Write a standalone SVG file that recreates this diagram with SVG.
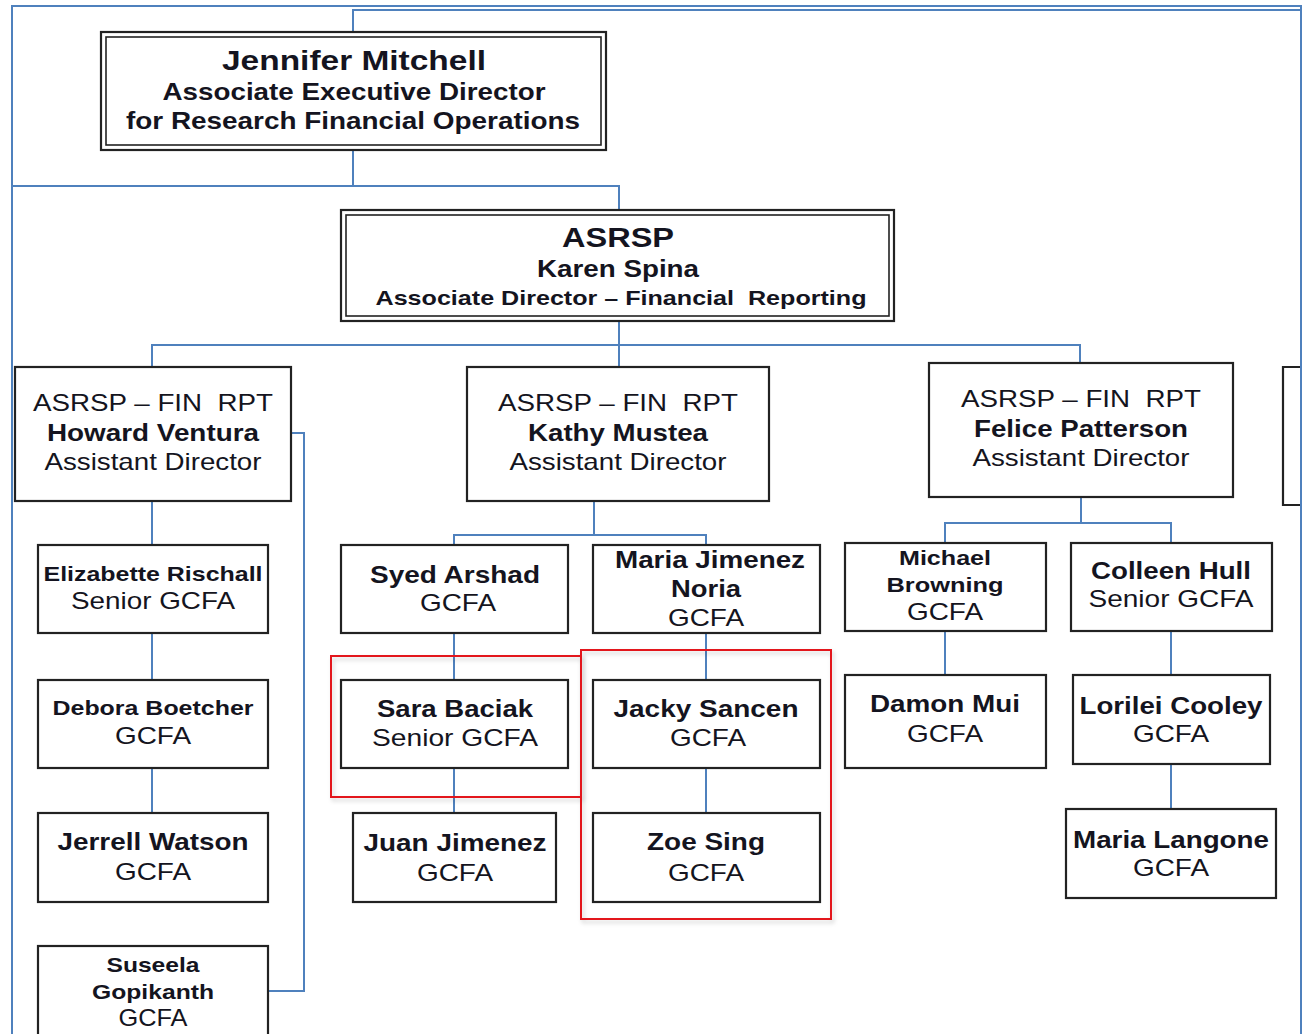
<svg xmlns="http://www.w3.org/2000/svg" width="1303" height="1034" viewBox="0 0 1303 1034">
<style>
.bg{fill:#fff}
.box{fill:#fff;stroke:#222;stroke-width:2.2}
.box2{fill:none;stroke:#222;stroke-width:1.6}
.con{fill:none;stroke:#4f81bd;stroke-width:2}
.hl{fill:none;stroke:#e3141b;stroke-width:2}
text{font-family:"Liberation Sans",Arial,sans-serif;fill:#141420;text-anchor:middle;white-space:pre}
.b{font-weight:bold}
.t{font-size:24px}
.s{font-size:21px}
.l{font-size:27px}
</style>
<defs>
<filter id="sh" x="-5%" y="-5%" width="110%" height="110%">
<feDropShadow dx="2" dy="3" stdDeviation="2" flood-color="#000" flood-opacity="0.18"/>
</filter>
</defs>
<rect class="bg" x="0" y="0" width="1303" height="1034"/>

<g id="connectors">
<path class="con" d="M12,1034 V6 H1301 V1034"/>
<path class="con" d="M353,32 V10 H1300"/>
<path class="con" d="M353,150 V186 H619 V210"/>
<path class="con" d="M12,186 H353"/>
<path class="con" d="M619,321 V345"/>
<path class="con" d="M152,367 V345 H1080 V363"/>
<path class="con" d="M619,345 V367"/>
<path class="con" d="M291,433 H304 V991 H268"/>
<path class="con" d="M152,501 V545 M152,633 V680 M152,768 V813"/>
<path class="con" d="M594,501 V535 M454,545 V535 H706 V545"/>
<path class="con" d="M454,633 V680 M454,768 V813"/>
<path class="con" d="M706,633 V680 M706,768 V813"/>
<path class="con" d="M1081,497 V523 M945,543 V523 H1171 V543"/>
<path class="con" d="M945,631 V675 M1171,631 V675 M1171,764 V809"/>
</g>

<g id="jennifer">
<rect class="box" x="101" y="32" width="505" height="118"/>
<rect class="box2" x="106" y="37" width="495" height="108"/>
<text class="b l" x="354" y="70" textLength="264" lengthAdjust="spacingAndGlyphs">Jennifer Mitchell</text>
<text class="b t" x="354" y="100" textLength="383" lengthAdjust="spacingAndGlyphs">Associate Executive Director</text>
<text class="b t" x="353" y="129" textLength="454" lengthAdjust="spacingAndGlyphs">for Research Financial Operations</text>
</g>

<g id="asrsp">
<rect class="box" x="341" y="210" width="553" height="111"/>
<rect class="box2" x="346" y="215" width="543" height="101"/>
<text class="b l" x="618" y="247" textLength="112" lengthAdjust="spacingAndGlyphs">ASRSP</text>
<text class="b t" x="618" y="277" textLength="162" lengthAdjust="spacingAndGlyphs">Karen Spina</text>
<text class="b s" x="621" y="305" textLength="491" lengthAdjust="spacingAndGlyphs" xml:space="preserve">Associate Director – Financial  Reporting</text>
</g>

<g id="howard">
<rect class="box" x="15" y="367" width="276" height="134"/>
<text class="t" x="153" y="411" textLength="240" lengthAdjust="spacingAndGlyphs" xml:space="preserve">ASRSP – FIN  RPT</text>
<text class="b t" x="153" y="441" textLength="212" lengthAdjust="spacingAndGlyphs">Howard Ventura</text>
<text class="t" x="153" y="470" textLength="217" lengthAdjust="spacingAndGlyphs">Assistant Director</text>
</g>

<g id="kathy">
<rect class="box" x="467" y="367" width="302" height="134"/>
<text class="t" x="618" y="411" textLength="240" lengthAdjust="spacingAndGlyphs" xml:space="preserve">ASRSP – FIN  RPT</text>
<text class="b t" x="618" y="441" textLength="180" lengthAdjust="spacingAndGlyphs">Kathy Mustea</text>
<text class="t" x="618" y="470" textLength="217" lengthAdjust="spacingAndGlyphs">Assistant Director</text>
</g>

<g id="felice">
<rect class="box" x="929" y="363" width="304" height="134"/>
<text class="t" x="1081" y="407" textLength="240" lengthAdjust="spacingAndGlyphs" xml:space="preserve">ASRSP – FIN  RPT</text>
<text class="b t" x="1081" y="437" textLength="214" lengthAdjust="spacingAndGlyphs">Felice Patterson</text>
<text class="t" x="1081" y="466" textLength="217" lengthAdjust="spacingAndGlyphs">Assistant Director</text>
</g>

<g id="partial">
<path class="box" d="M1300,367 H1283 V505 H1300" />
</g>

<g id="elizabette">
<rect class="box" x="38" y="545" width="230" height="88"/>
<text class="b s" x="153" y="581" textLength="219" lengthAdjust="spacingAndGlyphs">Elizabette Rischall</text>
<text class="t" x="153" y="609" textLength="164" lengthAdjust="spacingAndGlyphs">Senior GCFA</text>
</g>

<g id="debora">
<rect class="box" x="38" y="680" width="230" height="88"/>
<text class="b s" x="153" y="715" textLength="201" lengthAdjust="spacingAndGlyphs">Debora Boetcher</text>
<text class="t" x="153" y="744" textLength="76" lengthAdjust="spacingAndGlyphs">GCFA</text>
</g>

<g id="jerrell">
<rect class="box" x="38" y="813" width="230" height="89"/>
<text class="b t" x="153" y="850" textLength="191" lengthAdjust="spacingAndGlyphs">Jerrell Watson</text>
<text class="t" x="153" y="880" textLength="76" lengthAdjust="spacingAndGlyphs">GCFA</text>
</g>

<g id="suseela">
<rect class="box" x="38" y="946" width="230" height="100"/>
<text class="b s" x="153" y="972" textLength="93" lengthAdjust="spacingAndGlyphs">Suseela</text>
<text class="b s" x="153" y="999" textLength="122" lengthAdjust="spacingAndGlyphs">Gopikanth</text>
<text class="t" x="153" y="1026" textLength="69" lengthAdjust="spacingAndGlyphs">GCFA</text>
</g>

<g id="syed">
<rect class="box" x="341" y="545" width="227" height="88"/>
<text class="b t" x="455" y="583" textLength="170" lengthAdjust="spacingAndGlyphs">Syed Arshad</text>
<text class="t" x="458" y="611" textLength="76" lengthAdjust="spacingAndGlyphs">GCFA</text>
</g>

<g id="maria-jimenez">
<rect class="box" x="593" y="545" width="227" height="88"/>
<text class="b t" x="710" y="568" textLength="190" lengthAdjust="spacingAndGlyphs">Maria Jimenez</text>
<text class="b t" x="706" y="597" textLength="70" lengthAdjust="spacingAndGlyphs">Noria</text>
<text class="t" x="706" y="626" textLength="76" lengthAdjust="spacingAndGlyphs">GCFA</text>
</g>

<g id="sara">
<rect class="box" x="341" y="680" width="227" height="88"/>
<text class="b t" x="455" y="717" textLength="156" lengthAdjust="spacingAndGlyphs">Sara Baciak</text>
<text class="t" x="455" y="746" textLength="166" lengthAdjust="spacingAndGlyphs">Senior GCFA</text>
</g>

<g id="juan">
<rect class="box" x="353" y="813" width="203" height="89"/>
<text class="b t" x="455" y="851" textLength="183" lengthAdjust="spacingAndGlyphs">Juan Jimenez</text>
<text class="t" x="455" y="881" textLength="76" lengthAdjust="spacingAndGlyphs">GCFA</text>
</g>

<g id="jacky">
<rect class="box" x="593" y="680" width="227" height="88"/>
<text class="b t" x="706" y="717" textLength="185" lengthAdjust="spacingAndGlyphs">Jacky Sancen</text>
<text class="t" x="708" y="746" textLength="76" lengthAdjust="spacingAndGlyphs">GCFA</text>
</g>

<g id="zoe">
<rect class="box" x="593" y="813" width="227" height="89"/>
<text class="b t" x="706" y="850" textLength="118" lengthAdjust="spacingAndGlyphs">Zoe Sing</text>
<text class="t" x="706" y="881" textLength="76" lengthAdjust="spacingAndGlyphs">GCFA</text>
</g>

<g id="michael">
<rect class="box" x="845" y="543" width="201" height="88"/>
<text class="b s" x="945" y="565" textLength="92" lengthAdjust="spacingAndGlyphs">Michael</text>
<text class="b s" x="945" y="592" textLength="117" lengthAdjust="spacingAndGlyphs">Browning</text>
<text class="t" x="945" y="620" textLength="76" lengthAdjust="spacingAndGlyphs">GCFA</text>
</g>

<g id="colleen">
<rect class="box" x="1071" y="543" width="201" height="88"/>
<text class="b t" x="1171" y="579" textLength="160" lengthAdjust="spacingAndGlyphs">Colleen Hull</text>
<text class="t" x="1171" y="607" textLength="165" lengthAdjust="spacingAndGlyphs">Senior GCFA</text>
</g>

<g id="damon">
<rect class="box" x="845" y="675" width="201" height="93"/>
<text class="b t" x="945" y="712" textLength="150" lengthAdjust="spacingAndGlyphs">Damon Mui</text>
<text class="t" x="945" y="742" textLength="76" lengthAdjust="spacingAndGlyphs">GCFA</text>
</g>

<g id="lorilei">
<rect class="box" x="1073" y="675" width="197" height="89"/>
<text class="b t" x="1171" y="714" textLength="183" lengthAdjust="spacingAndGlyphs">Lorilei Cooley</text>
<text class="t" x="1171" y="742" textLength="76" lengthAdjust="spacingAndGlyphs">GCFA</text>
</g>

<g id="maria-langone">
<rect class="box" x="1066" y="809" width="210" height="89"/>
<text class="b t" x="1171" y="848" textLength="196" lengthAdjust="spacingAndGlyphs">Maria Langone</text>
<text class="t" x="1171" y="876" textLength="76" lengthAdjust="spacingAndGlyphs">GCFA</text>
</g>

<g id="highlights">
<rect class="hl" x="331" y="656" width="250" height="141" filter="url(#sh)"/>
<rect class="hl" x="581" y="650" width="250" height="269" filter="url(#sh)"/>
</g>
</svg>
